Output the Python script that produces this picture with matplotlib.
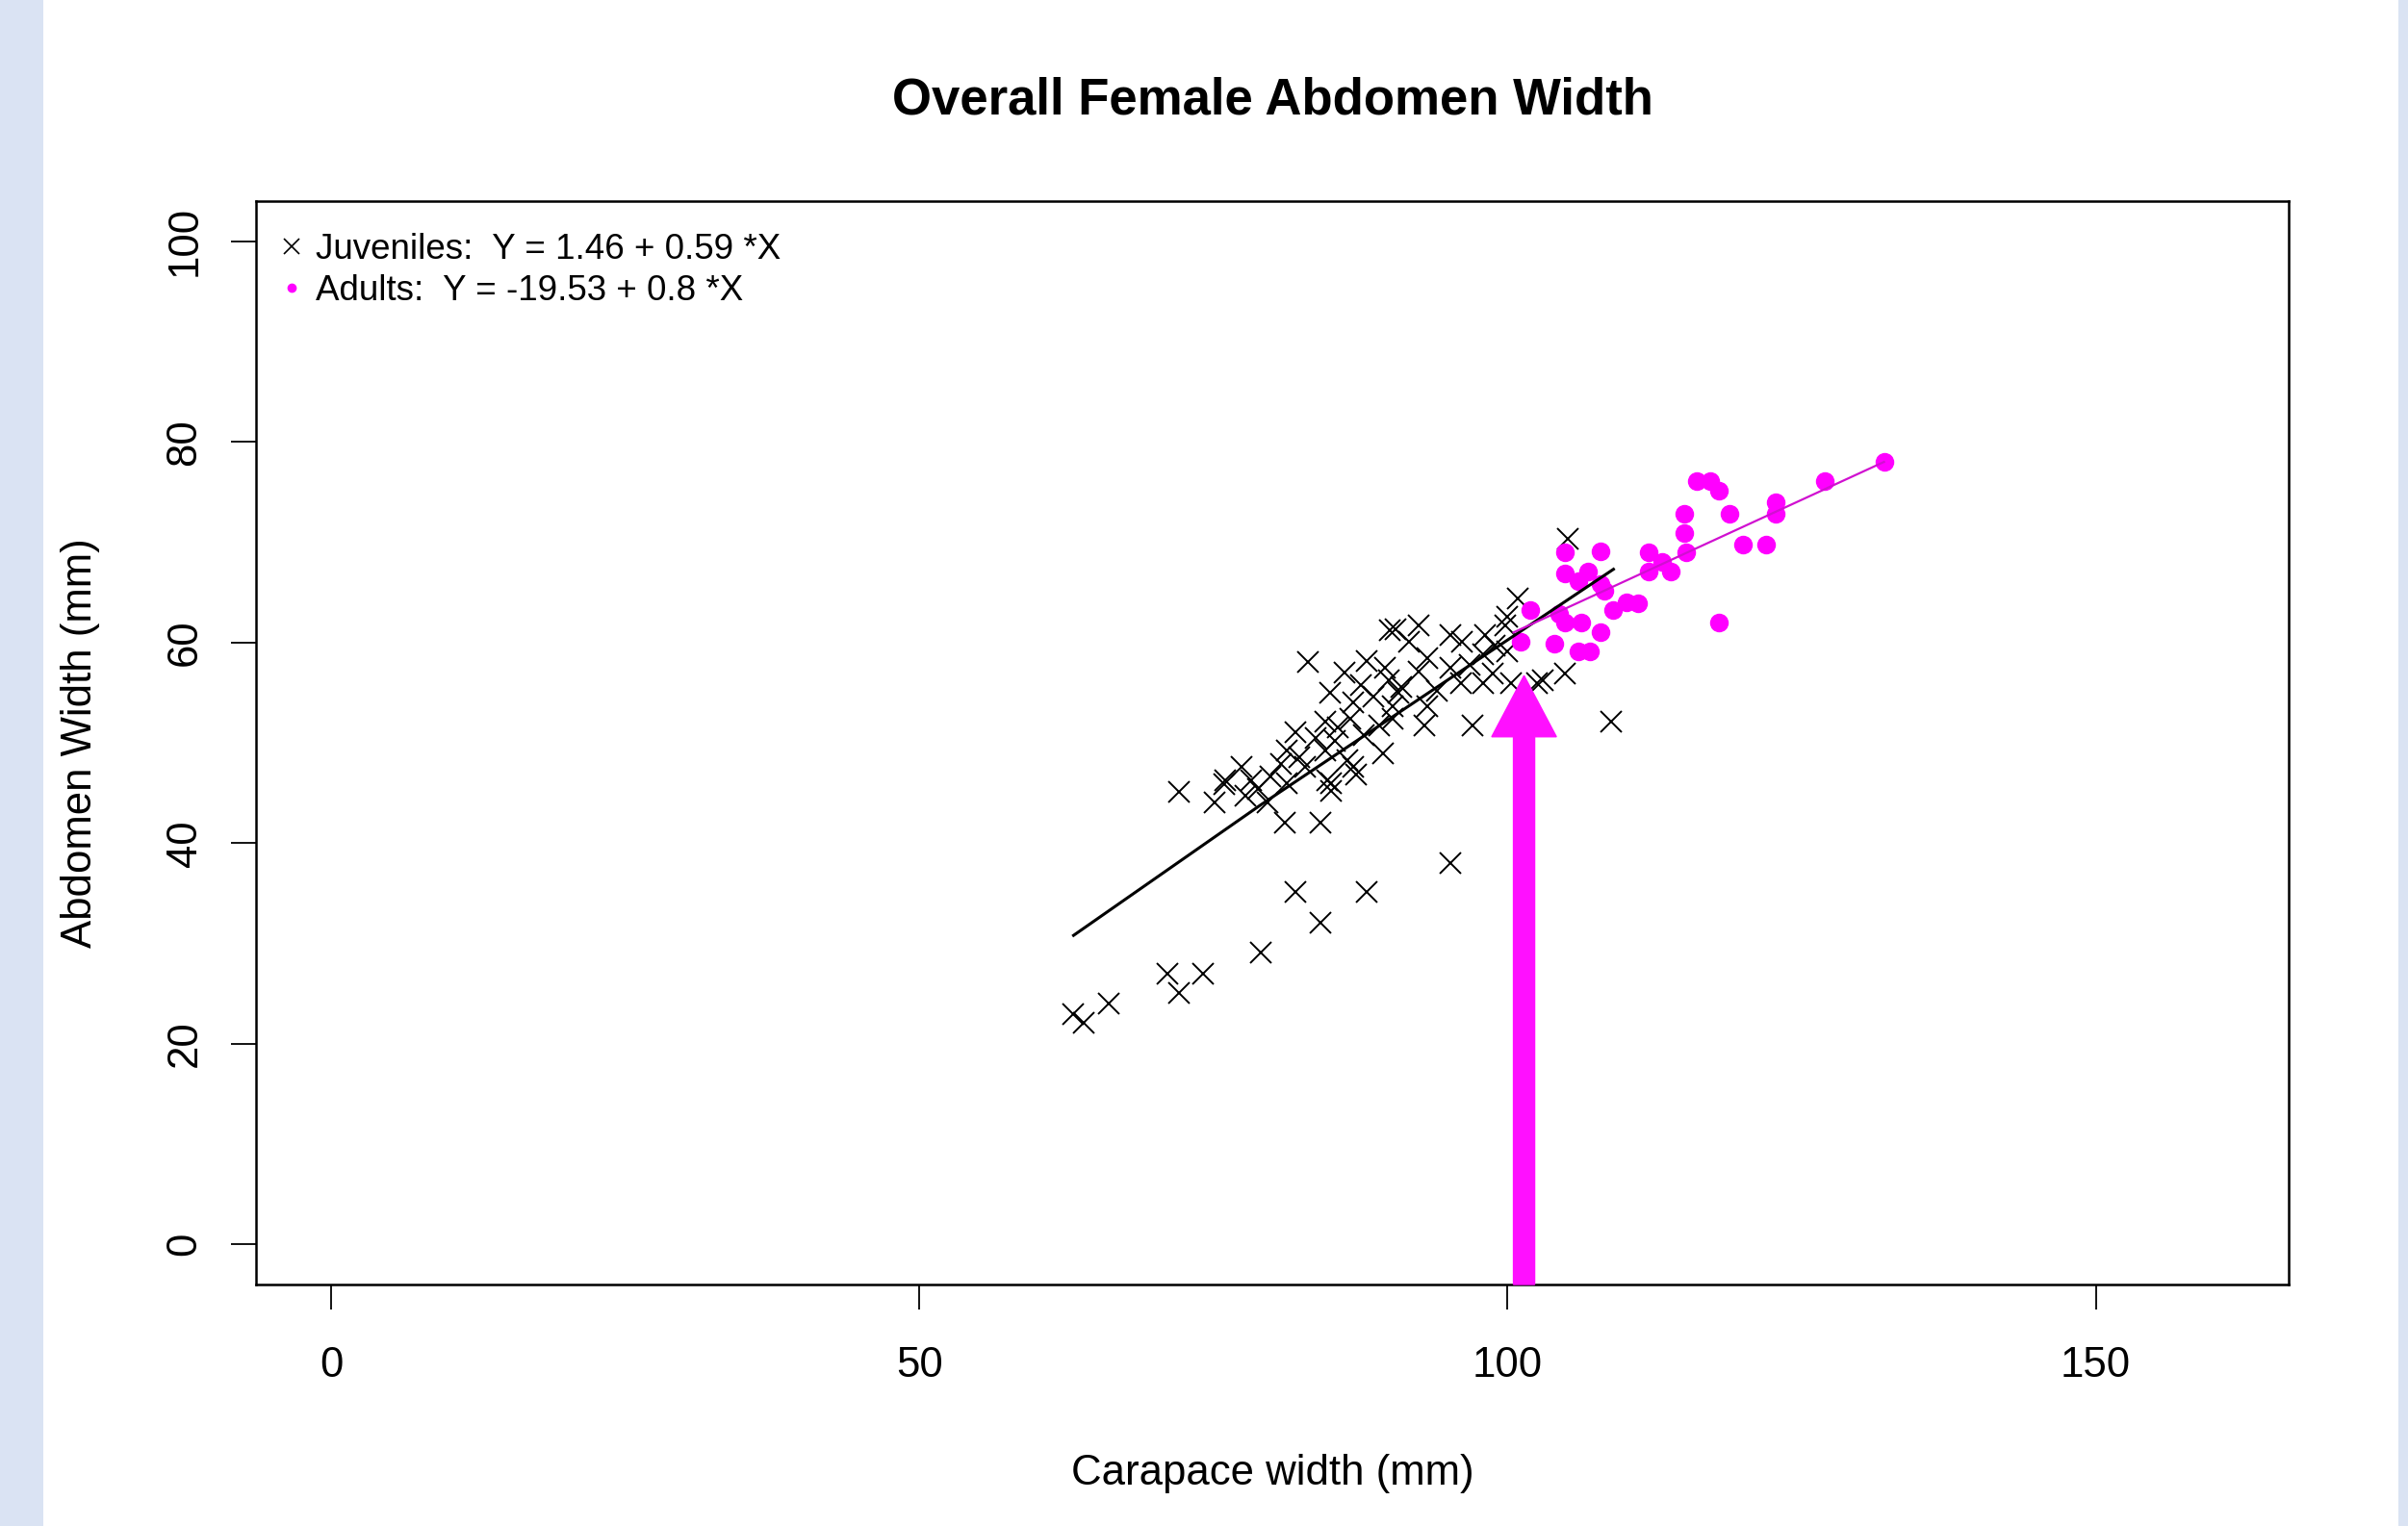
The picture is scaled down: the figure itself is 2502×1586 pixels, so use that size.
#=========================================================================
# Overall female abdomen width vs carapace width, juveniles and adults
#=========================================================================

import matplotlib
matplotlib.use('Agg')
import matplotlib.pyplot as plt
from matplotlib.lines import Line2D
from matplotlib.patches import Rectangle, FancyArrow

plt.rcParams['font.family'] = ['Liberation Sans', 'DejaVu Sans']

# Juveniles (carapace width, abdomen width)
juv_x = [63.1, 64.0, 66.1, 71.1, 72.1, 74.1, 79.0, 82.0, 84.1, 88.0, 95.1, 108.8,
         72.1, 75.1, 81.1, 84.1, 75.9, 85.0, 87.1,
         90.0, 83.0, 88.0, 86.1, 89.6, 84.9, 87.5, 89.9, 86.9, 88.6, 90.7,
         82.0, 84.5, 85.6, 86.6, 83.7, 85.3, 87.8, 89.1, 90.2, 81.2, 82.3,
         84.5, 86.4, 89.4, 80.7, 82.8, 84.7, 86.9, 85.0, 77.4, 76.0, 78.2,
         78.8, 79.8, 81.2, 77.7, 79.6,
         100.9, 100.0, 90.5, 92.4, 91.6, 95.1, 96.1, 98.1, 98.9, 99.8, 93.2,
         92.4, 95.1, 96.8, 97.9, 98.7, 91.0, 94.0, 96.0, 97.9, 100.3, 102.5,
         104.9, 90.2, 93.2, 92.9, 97.0,
         105.1, 100.0, 103.0]
juv_y = [23.0, 22.1, 24.0, 27.0, 25.1, 27.0, 29.1, 35.1, 32.1, 35.1, 38.0, 52.1,
         45.1, 44.1, 42.0, 42.0, 45.9, 46.0, 46.8,
         61.2, 58.1, 58.2, 57.0, 57.5, 55.0, 55.8, 56.2, 54.0, 54.6, 55.0,
         51.1, 52.1, 51.5, 52.4, 50.5, 50.2, 50.8, 51.7, 52.4, 49.2, 48.6,
         49.2, 48.3, 48.9, 47.9, 47.6, 46.3, 47.6, 45.2, 47.6, 46.3, 46.3,
         45.4, 46.6, 46.0, 44.7, 44.1,
         64.4, 62.6, 61.3, 61.7, 60.1, 60.7, 60.1, 60.7, 59.7, 61.7, 58.4,
         57.1, 57.5, 57.8, 58.8, 56.9, 55.6, 55.2, 55.9, 55.9, 55.9, 55.9,
         56.9, 53.6, 53.6, 51.7, 51.7,
         70.3, 59.1, 56.2]

# Adults
adult_x = [132.0, 127.0, 122.8, 122.8, 120.0, 122.0, 118.9, 118.0, 117.2, 116.1,
           115.0, 115.0, 115.2, 113.9, 112.0, 112.0, 113.1, 118.0, 107.9, 104.9,
           104.9, 106.8, 106.0, 107.9, 108.2, 101.9, 109.0, 110.1, 111.1, 104.4,
           104.9, 106.3, 107.9, 101.1, 104.0, 106.0, 107.0]
adult_y = [78.0, 76.1, 74.0, 72.8, 69.8, 69.8, 72.8, 75.1, 76.1, 76.1,
           72.8, 70.9, 69.0, 67.1, 69.0, 67.1, 68.0, 62.0, 69.1, 69.0,
           66.9, 67.1, 66.1, 65.8, 65.2, 63.2, 63.2, 64.0, 63.9, 62.9,
           62.0, 62.0, 61.0, 60.1, 59.9, 59.1, 59.1]

# Fitted lines as drawn
juv_fit_x = [63.1, 79.0, 109.0]
juv_fit_y = [30.8, 43.8, 67.3]
adult_fit_x = [100.5, 132.0]
adult_fit_y = [61.0, 78.0]

# Arrow marking the size at maturity
arrow_x = 101.4
arrow_tip_y = 56.7

legend_labels = ['Juveniles:  Y = 1.46 + 0.59 *X',
                 'Adults:  Y = -19.53 + 0.8 *X']

W, H = 2502, 1586
fig = plt.figure(figsize=(W / 100, H / 100), dpi=100)
fig.patch.set_facecolor('white')

# light blue page bands at the edges
fig.patches.append(Rectangle((0, 0), 45 / W, 1, transform=fig.transFigure,
                             facecolor='#dae3f3', edgecolor='none', zorder=0))
fig.patches.append(Rectangle((2492 / W, 0), 10 / W, 1, transform=fig.transFigure,
                             facecolor='#dae3f3', edgecolor='none', zorder=0))

ax = fig.add_axes([266 / W, 1 - 1335 / H, 2112 / W, 1126 / H])

ax.plot(juv_x, juv_y, linestyle='none', marker='x', color='black',
        markersize=16, markeredgewidth=1.4)
ax.plot(adult_x, adult_y, linestyle='none', marker='o', color='#ff00ff',
        markersize=13)
ax.plot(juv_fit_x, juv_fit_y, color='black', linewidth=2.2)
ax.plot(adult_fit_x, adult_fit_y, color='#d010d0', linewidth=1.6)

ax.add_patch(FancyArrow(arrow_x, -4, 0, arrow_tip_y + 4, width=1.8,
                        head_width=5.5, head_length=6.1,
                        length_includes_head=True, color='#ff10ff',
                        zorder=5, clip_on=False))

ax.set_xlim(-6.4, 166.4)
ax.set_ylim(-4, 104)
ax.set_xticks([0, 50, 100, 150])
ax.set_yticks([0, 20, 40, 60, 80, 100])
for s in ax.spines.values():
    s.set_linewidth(1.8)

ax.tick_params(axis='both', direction='out', length=18.5, width=1.3,
               labelsize=31.5)
ax.tick_params(axis='x', pad=27.5)
ax.tick_params(axis='y', pad=20)
plt.setp(ax.get_yticklabels(), rotation=90, va='center')

ax.set_xlabel('Carapace width (mm)', fontsize=31.5)
ax.xaxis.set_label_coords(0.5, -0.156)
ax.set_ylabel('Abdomen Width (mm)', fontsize=31.5)
ax.yaxis.set_label_coords(-0.0765, 0.5)

ax.set_title('Overall Female Abdomen Width', fontsize=38, fontweight='bold',
             pad=65)

handles = [Line2D([], [], linestyle='none', marker='x', color='black',
                  markersize=11, markeredgewidth=1.2),
           Line2D([], [], linestyle='none', marker='o', color='#ff00ff',
                  markersize=6)]
ax.legend(handles, legend_labels, loc='upper left',
          bbox_to_anchor=(0.0104, 0.971), frameon=False, fontsize=26.5,
          borderpad=0, borderaxespad=0, handlelength=0.8,
          handletextpad=0.3, labelspacing=0.23)

fig.savefig('out.png', dpi=100)
